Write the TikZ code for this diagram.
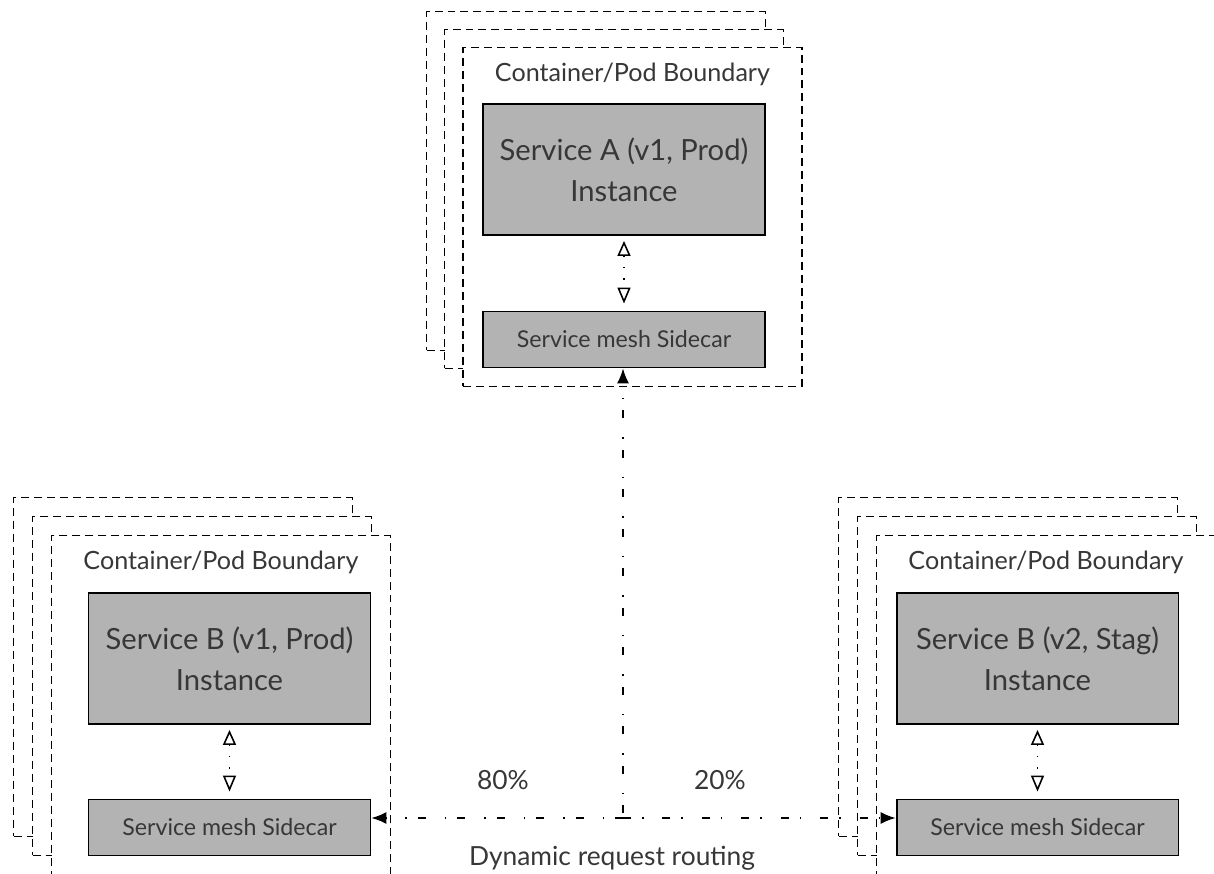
\documentclass[tikz,border=0pt]{standalone}
\usepackage{fontspec}
\setmainfont{Lato}
\usetikzlibrary{arrows.meta,positioning}

\definecolor{boxgray}{RGB}{179,179,179}
\definecolor{inkgray}{RGB}{55,55,55}

\begin{document}
\begin{tikzpicture}[x=0.02cm, y=-0.02cm,
		pod/.style={draw, dash pattern=on 0.16cm off 0.1cm, line width=0.75pt, fill=white,
			minimum width=6.78cm, minimum height=6.78cm, inner sep=0pt},
		podlabel/.style={text=inkgray, font=\fontsize{14.3}{16}\selectfont},
		svc/.style={draw, line width=1.1pt, fill=boxgray, text=inkgray, align=center,
			minimum width=5.64cm, minimum height=2.62cm, inner sep=0pt,
			font=\fontsize{16.6}{23.5}\selectfont},
		car/.style={draw, line width=1.1pt, fill=boxgray, text=inkgray,
			minimum width=5.64cm, minimum height=1.12cm, inner sep=0pt,
			font=\fontsize{13.2}{15}\selectfont},
		link/.style={line width=0.9pt, dash pattern=on 0.8pt off 0.2cm,
			{Triangle[open,length=0.3cm,width=0.26cm,line width=0.9pt]}-{Triangle[open,length=0.32cm,width=0.26cm,line width=0.9pt]},
			shorten <=0.1cm, shorten >=0.14cm},
		route/.style={line width=0.8pt, dash pattern=on 0.16cm off 0.22cm on 0.03cm off 0.38cm,
			-{Latex[length=0.3cm,width=0.24cm]}},
		note/.style={text=inkgray, font=\fontsize{15}{17}\selectfont}]

		\useasboundingbox (0,0) rectangle (1214,874);

		% draw the stacks of pods (back to front)
		\node (podAc) [pod] at (596,181) {};
		\node (podAb) [pod] at (614,199) {};
		\node (podA) [pod] at (632.5,217) {};

		\node (podBc) [pod] at (183,667) {};
		\node (podBb) [pod] at (202,686) {};
		\node (podB) [pod] at (221,705) {};

		\node (podCc) [pod] at (1008,667) {};
		\node (podCb) [pod] at (1027,686) {};
		\node (podC) [pod] at (1046,705) {};

		\node [podlabel] at ([yshift=-0.56cm]podA.north) {Container/Pod Boundary};
		\node [podlabel] at ([yshift=-0.56cm]podB.north) {Container/Pod Boundary};
		\node [podlabel] at ([yshift=-0.56cm]podC.north) {Container/Pod Boundary};

		% service instances and their sidecars
		\node (svcA) [svc] at (624,169.5) {Service A (v1, Prod)\\Instance};
		\node (carA) [car] at (624,339.5) {Service mesh Sidecar};

		\node (svcB) [svc] at (229.5,658.5) {Service B (v1, Prod)\\Instance};
		\node (carB) [car] at (229.5,827.5) {Service mesh Sidecar};

		\node (svcC) [svc] at (1037.5,658.5) {Service B (v2, Stag)\\Instance};
		\node (carC) [car] at (1037.5,827.5) {Service mesh Sidecar};

		\draw [link] (svcA) -- (carA);
		\draw [link] (svcB) -- (carB);
		\draw [link] (svcC) -- (carC);

		% draw the routing
		\coordinate (hub) at (623,818);
		\draw [route] ([yshift=0.1cm]hub) -- (hub |- carA.south);
		\draw [route] (hub) -- (hub -| carB.east);
		\draw [route] (hub) -- (hub -| carC.west);

		\node (split80) [note] at (503,780) {80\%};
		\node (split20) [note] at (720,780) {20\%};
		\node (routing) [note] at (612,858) {Dynamic request routing};
\end{tikzpicture}
\end{document}
